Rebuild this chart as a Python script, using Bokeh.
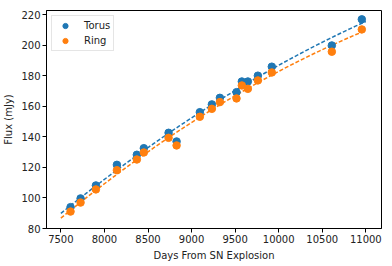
import numpy as np
from bokeh.plotting import figure
from bokeh.models import FixedTicker, Legend, LegendItem, Range1d
from bokeh.embed import file_html
from bokeh.resources import INLINE

days = [7611, 7726, 7902, 8143, 8372, 8452, 8736, 8828, 9095, 9233,
        9325, 9516, 9577, 9646, 9761, 9921, 10610, 10954]
torus_flux = [94.0, 99.7, 108.2, 121.7, 128.3, 132.6, 142.7, 137.0, 156.2, 161.3,
              165.6, 169.3, 176.3, 176.3, 180.1, 186.0, 199.9, 217.0]
ring_flux = [91.1, 97.0, 105.6, 118.2, 125.2, 129.8, 139.4, 134.4, 153.2, 158.4,
             162.8, 165.2, 173.7, 171.5, 177.0, 182.2, 195.8, 210.4]
fit_start, fit_end = 7500, 11000
x_ticks = [7500, 8000, 8500, 9000, 9500, 10000, 10500, 11000]
y_ticks = [80, 100, 120, 140, 160, 180, 200, 220]

BLUE = "#1f77b4"
ORANGE = "#ff7f0e"
FONT = "DejaVu Sans"

p = figure(frame_width=335, frame_height=218, output_backend="svg",
           toolbar_location=None, x_range=Range1d(7335, 11180),
           y_range=Range1d(80, 222.8), min_border_left=39, min_border_top=10,
           min_border_right=4, min_border_bottom=10)
p.xgrid.visible = False
p.ygrid.visible = False
p.outline_line_color = "black"
p.outline_line_width = 1
p.background_fill_color = "white"
p.border_fill_color = "white"

for ax in (p.xaxis[0], p.yaxis[0]):
    ax.axis_line_color = "black"
    ax.major_tick_line_color = "black"
    ax.major_tick_out = 4
    ax.major_tick_in = 0
    ax.minor_tick_line_color = None
    ax.major_label_text_font = FONT
    ax.major_label_text_font_size = "10px"
    ax.major_label_text_color = "#222222"
    ax.axis_label_text_font = FONT
    ax.axis_label_text_font_size = "10px"
    ax.axis_label_text_font_style = "normal"
    ax.axis_label_text_color = "#222222"
    ax.major_label_standoff = 2
    ax.axis_label_standoff = 4

p.xaxis.ticker = FixedTicker(ticks=x_ticks)
p.yaxis.ticker = FixedTicker(ticks=y_ticks)
p.xaxis.axis_label = "Days From SN Explosion"
p.yaxis.axis_label = "Flux (mJy)"

d = np.array(days, dtype=float)
xs = np.linspace(fit_start, fit_end, 60)
ct = np.polyfit(d, np.array(torus_flux), 2)
cr = np.polyfit(d, np.array(ring_flux), 2)
p.line(xs, np.polyval(ct, xs), line_color=BLUE, line_dash="4 2", line_width=1.5)
p.line(xs, np.polyval(cr, xs), line_color=ORANGE, line_dash="4 2", line_width=1.5)

rt = p.scatter(days, torus_flux, size=7.5, fill_color=BLUE, line_color=BLUE)
rr = p.scatter(days, ring_flux, size=7.5, fill_color=ORANGE, line_color=ORANGE)

legend = Legend(items=[LegendItem(label="Torus", renderers=[rt]),
                       LegendItem(label="Ring", renderers=[rr])],
                location="top_left")
legend.label_text_font = FONT
legend.label_text_font_size = "10px"
legend.label_text_color = "#222222"
legend.border_line_color = "#cccccc"
legend.border_line_width = 1
legend.padding = 3
legend.margin = 5
legend.spacing = 2
legend.glyph_width = 20
legend.glyph_height = 13
legend.label_height = 13
legend.label_standoff = 9
p.add_layout(legend)

open("out.html", "w").write(file_html(p, INLINE))
